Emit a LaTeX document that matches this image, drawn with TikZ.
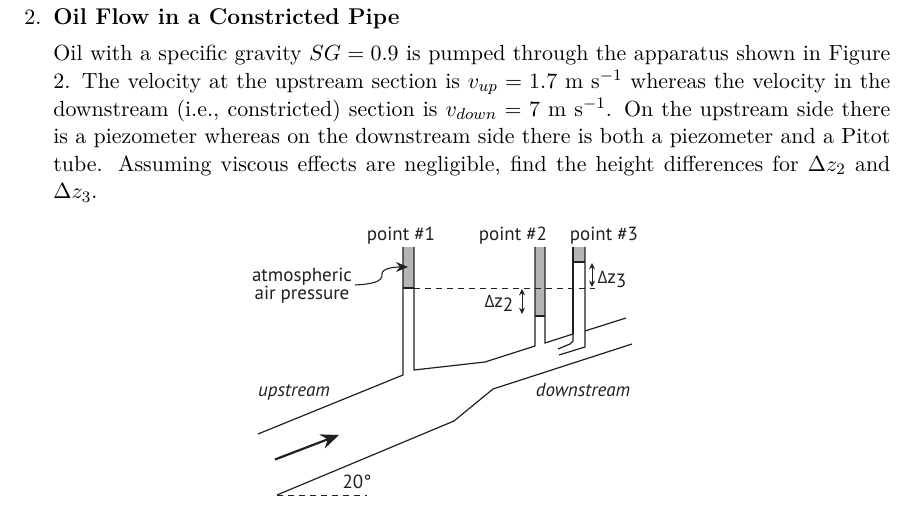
\documentclass[tikz,border=0pt]{standalone}
\usepackage[no-math]{fontspec}
\usetikzlibrary{arrows.meta}
\newfontfamily\labfont{PT Sans}
\newfontfamily\deltafont{Open Sans}
\definecolor{ink}{HTML}{231F20}
\definecolor{oil}{HTML}{B5B5B7}
\tikzset{
  wall/.style={draw=ink,line width=0.6pt,line join=miter},
  fluid/.style={fill=oil,draw=none},
  level/.style={draw=ink,line width=0.42pt,dash pattern=on 3pt off 2.5pt},
  dim/.style={draw=ink,line width=0.5pt,{Stealth[length=3.2pt,width=3pt]}-{Stealth[length=3.2pt,width=3pt]}},
  lab/.style={font=\labfont\fontsize{9.5}{10}\selectfont,text=ink,inner sep=0pt,anchor=base},
  labz/.style={lab,font=\labfont\fontsize{9.6}{10}\selectfont},
  prose/.style={inner sep=0pt,anchor=base west}
}
\begin{document}
\begin{tikzpicture}[x=0.5pt,y=-0.5pt]
\useasboundingbox (0,0) rectangle (923,523);
\fill[white] (0,0) rectangle (923,523);
% text
\node[prose,font=\fontsize{10.95}{13.8}\selectfont] (num) at (24,25) {2.};
\node[prose,font=\fontsize{11.4}{13.8}\selectfont\bfseries] (title) at (53,25) {Oil Flow in a Constricted Pipe};
\node[inner sep=0pt,anchor=north west,text width=418.5pt,align=justify,font=\fontsize{10.95}{13.8}\selectfont] (body) at (53,45) {%
Oil with a specific gravity $SG=0.9$ is pumped through the apparatus shown in Figure\linebreak
2. The velocity at the upstream section is $v_{up}=1.7$ m s$^{-1}$ whereas the velocity in the\linebreak
downstream (i.e., constricted) section is $v_{down}=7$ m s$^{-1}$. On the upstream side there\linebreak
is a piezometer whereas on the downstream side there is both a piezometer and a Pitot\linebreak
tube. Assuming viscous effects are negligible, find the height differences for $\Delta z_2$ and\linebreak
$\Delta z_3$.\par};
% fluid columns
\path[fluid] (403,247) rectangle (414,288);
\path[fluid] (535,247) rectangle (545,316);
\path[fluid] (573,247) rectangle (585,262);
% levels
\draw[level] (414,288) -- (595,288);
% oil surfaces
\draw[wall] (403,288) -- (414,288);
\draw[wall] (535,316) -- (545,316);
\draw[wall] (573,262) -- (585,262);
% pipe
\draw[wall] (258,434) -- (403,375) -- (403,247);
\draw[wall] (414,247) -- (414,370) -- (485,362) -- (535,346) -- (535,247);
\draw[wall] (545,247) -- (545,343) -- (573,334) -- (573,341) -- (570,344) -- (558,349);
\draw[wall] (573,334) -- (573,247);
\draw[wall] (585,247) -- (585,347) -- (559,355);
\draw[wall] (585,331) -- (626,318);
\draw[wall] (632,344) -- (493,389) -- (454,421) -- (277,495);
\draw[level] (277,495.5) -- (367,495.5);
% flow arrow
\coordinate (flowA) at (275,459.5);
\coordinate (flowB) at (339,435);
\draw[draw=ink,line width=1.1pt,-{Stealth[length=9pt,width=7.5pt]}] (flowA) -- (flowB);
% dimensions
\coordinate (dzA) at (522,289);
\coordinate (dzB) at (522,314);
\draw[dim] (dzA) -- (dzB);
\coordinate (dtA) at (592,263);
\coordinate (dtB) at (592,287);
\draw[dim] (dtA) -- (dtB);
% labels
\node[lab] (p1) at (401,241) {point \#1};
\node[lab] (p2) at (513,241) {point \#2};
\node[lab] (p3) at (604,241) {point \#3};
\node[lab] (atm1) at (302,282) {atmospheric};
\node[lab] (atm2) at (302,300) {air pressure};
\node[lab,font=\labfont\itshape\fontsize{9.5}{10}\selectfont] (up) at (294,397) {upstream};
\node[lab,font=\labfont\itshape\fontsize{9.5}{10}\selectfont] (down) at (583,397) {downstream};
\node[lab] (ang) at (357,489) {20\textdegree};
\node[labz] (dz2) at (499,308) {{\deltafont\fontsize{8.6}{10}\selectfont Δ}z\raisebox{-2pt}{2}};
\node[labz] (dz3) at (612,284) {{\deltafont\fontsize{8.6}{10}\selectfont Δ}z\raisebox{-2pt}{3}};
% atmospheric arrow
\coordinate (atmStart) at (355,285);
\coordinate (atmEnd) at (408,267);
\draw[draw=ink,line width=0.55pt,-{Stealth[length=6pt,width=5pt]}] (atmStart) .. controls (372,284) and (383,282) .. (382,274) .. controls (382,268) and (395,267) .. (atmEnd);
\end{tikzpicture}
\end{document}
